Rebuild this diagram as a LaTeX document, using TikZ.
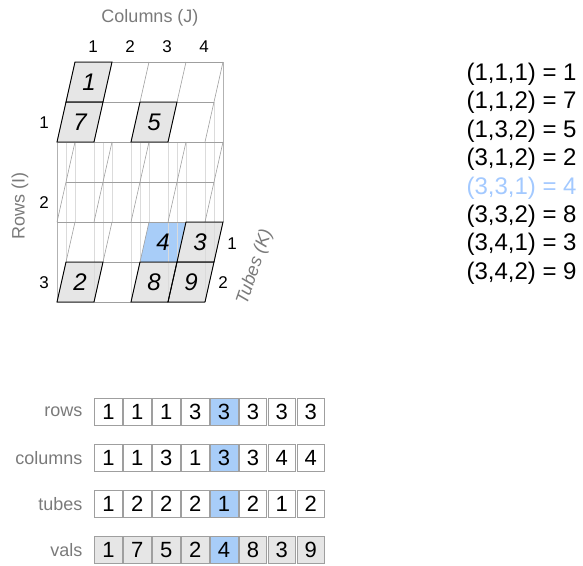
\documentclass[tikz,border=0pt]{standalone}
\usepackage{fontspec}
\setmainfont{Liberation Sans}
\definecolor{cellgray}{HTML}{E6E6E6}
\definecolor{cellblue}{HTML}{A8CDF8}
\definecolor{textblue}{HTML}{A3C9FF}
\definecolor{labelgray}{HTML}{7A7A7A}

\begin{document}
\begin{tikzpicture}[x=1pt,y=-1pt,
  grid/.style={draw=gray!75,line width=0.6pt},
  vline/.style={draw=gray!28,line width=0.6pt},
  edge/.style={draw=gray!60,line width=0.7pt},
  outline/.style={draw=black,line width=0.9pt},
  val/.style={font=\fontsize{24}{24}\selectfont\itshape},
  idx/.style={font=\fontsize{17}{17}\selectfont},
  axis/.style={font=\fontsize{18}{18}\selectfont,text=labelgray},
  entry/.style={anchor=west,font=\fontsize{24}{24}\selectfont},
  arrlab/.style={anchor=east,font=\fontsize{18}{18}\selectfont,text=labelgray},
  arr/.style={draw=gray!75,line width=0.6pt,minimum width=27.5pt,minimum height=27pt,
    inner sep=0pt,font=\fontsize{22}{22}\selectfont}]
  \useasboundingbox (0,0) rectangle (583,565);
  \foreach \i in {1,2,3}
    \foreach \c in {0,...,4}
      \foreach \t in {0,1,2}
        \coordinate (p-\i-\c-\t) at ({75+37*\c-9*\t},{62+80*(\i-1)+40*\t});

  \foreach \j/\k/\f in {3/1/cellblue,4/1/cellgray,1/2/cellgray,3/2/cellgray,4/2/cellgray}{
    \pgfmathtruncatemacro\jm{\j-1}
    \pgfmathtruncatemacro\km{\k-1}
    \fill[\f] (p-3-\jm-\km) -- (p-3-\j-\km) -- (p-3-\j-\k) -- (p-3-\jm-\k) -- cycle;
  }
  \foreach \c in {0,...,4}
    \foreach \t in {0,1,2}
      \draw[vline] (p-1-\c-\t) -- (p-3-\c-\t);
  \draw[edge] (p-1-0-2) -- (p-3-0-2);
  \draw[edge] (p-1-4-0) -- (p-3-4-0);
  \fill[white] (p-1-0-0) -- (p-1-4-0) -- (p-1-4-2) -- (p-1-0-2) -- cycle;
  \foreach \j/\k in {1/1,1/2,3/2}{
    \pgfmathtruncatemacro\jm{\j-1}
    \pgfmathtruncatemacro\km{\k-1}
    \fill[cellgray] (p-1-\jm-\km) -- (p-1-\j-\km) -- (p-1-\j-\k) -- (p-1-\jm-\k) -- cycle;
  }
  \foreach \i in {1,2,3}{
    \foreach \t in {0,1,2}
      \draw[grid] (p-\i-0-\t) -- (p-\i-4-\t);
    \foreach \c in {0,...,4}
      \draw[grid] (p-\i-\c-0) -- (p-\i-\c-2);
  }
  \foreach \i/\j/\k in {1/1/1,1/1/2,1/3/2,3/4/1,3/1/2,3/3/2,3/4/2}{
    \pgfmathtruncatemacro\jm{\j-1}
    \pgfmathtruncatemacro\km{\k-1}
    \draw[outline] (p-\i-\jm-\km) -- (p-\i-\j-\km) -- (p-\i-\j-\k) -- (p-\i-\jm-\k) -- cycle;
  }
  \foreach \i/\j/\k/\v in {1/1/1/1,1/1/2/7,1/3/2/5,3/1/2/2,3/3/1/4,3/3/2/8,3/4/1/3,3/4/2/9}
    \node[val] (v-\i-\j-\k) at ({75+37*(\j-0.5)-9*(\k-0.5)},{62+80*(\i-1)+40*(\k-0.5)}) {\v};

  \node[axis] (colsttl) at (150,18) {Columns (J)};
  \foreach \j in {1,...,4}
    \node[idx] (col-\j) at ({93+37*(\j-1)},47) {\j};
  \node[axis,rotate=90] (rowsttl) at (20,206) {Rows (I)};
  \foreach \i in {1,2,3}
    \node[idx] (row-\i) at (44,{123+80*(\i-1)}) {\i};
  \node[idx] (tube-1) at (232,244) {1};
  \node[idx] (tube-2) at (223,283) {2};
  \node[axis,rotate=71,font=\fontsize{18}{18}\selectfont\itshape] (tubesttl) at (255,267) {Tubes (K)};

  \foreach \n/\e/\f in {1/{(1,1,1) = 1}/black,2/{(1,1,2) = 7}/black,3/{(1,3,2) = 5}/black,
      4/{(3,1,2) = 2}/black,5/{(3,3,1) = 4}/textblue,6/{(3,3,2) = 8}/black,
      7/{(3,4,1) = 3}/black,8/{(3,4,2) = 9}/black}
    \node[entry,text=\f] (entry-\n) at (463,{74+28.45*(\n-1)}) {\e};

  \foreach \r/\y/\vals/\f in {rows/411.5/{1,1,1,3,3,3,3,3}/white,
      columns/457.7/{1,1,3,1,3,3,4,4}/white,
      tubes/503.8/{1,2,2,2,1,2,1,2}/white,
      vals/550/{1,7,5,2,4,8,3,9}/cellgray}{
    \node[arrlab] (lab-\r) at (86,\y) {\r};
    \foreach \v [count=\n] in \vals {
      \ifnum\n=5 \def\cf{cellblue}\else\def\cf{\f}\fi
      \node[arr,fill=\cf] (\r-\n) at ({108.45+28.9*(\n-1)},\y) {\v};
    }
  }
\end{tikzpicture}
\end{document}
